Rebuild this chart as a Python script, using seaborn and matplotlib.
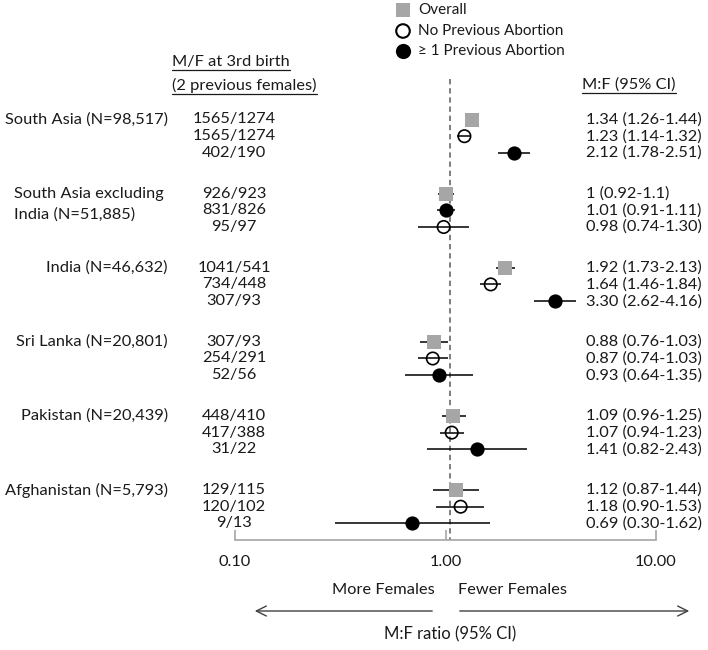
import numpy as np
import pandas as pd
import matplotlib
matplotlib.use("Agg")
import matplotlib.pyplot as plt
from matplotlib.lines import Line2D
import seaborn as sns

# ---------------- data ----------------
groups = ["South Asia (N=98,517)", "South Asia excluding\nIndia (N=51,885)",
          "India (N=46,632)", "Sri Lanka (N=20,801)",
          "Pakistan (N=20,439)", "Afghanistan (N=5,793)"]
kinds = ["Overall", "No Previous Abortion", "\u2265 1 Previous Abortion"]
# row kinds per group (index into kinds)
row_kind = [0, 1, 2,
            0, 2, 1,
            0, 1, 2,
            0, 1, 2,
            0, 1, 2,
            0, 1, 2]
counts = ["1565/1274", "1565/1274", "402/190",
          "926/923", "831/826", "95/97",
          "1041/541", "734/448", "307/93",
          "307/93", "254/291", "52/56",
          "448/410", "417/388", "31/22",
          "129/115", "120/102", "9/13"]
est = [1.34, 1.23, 2.12,
       1.00, 1.01, 0.98,
       1.92, 1.64, 3.30,
       0.88, 0.87, 0.93,
       1.09, 1.07, 1.41,
       1.12, 1.18, 0.69]
lo = [1.26, 1.14, 1.78,
      0.92, 0.91, 0.74,
      1.73, 1.46, 2.62,
      0.76, 0.74, 0.64,
      0.96, 0.94, 0.82,
      0.87, 0.90, 0.30]
hi = [1.44, 1.32, 2.51,
      1.10, 1.11, 1.30,
      2.13, 1.84, 4.16,
      1.03, 1.03, 1.35,
      1.25, 1.23, 2.43,
      1.44, 1.53, 1.62]
ci_text = ["1.34 (1.26-1.44)", "1.23 (1.14-1.32)", "2.12 (1.78-2.51)",
           "1 (0.92-1.1)", "1.01 (0.91-1.11)", "0.98 (0.74-1.30)",
           "1.92 (1.73-2.13)", "1.64 (1.46-1.84)", "3.30 (2.62-4.16)",
           "0.88 (0.76-1.03)", "0.87 (0.74-1.03)", "0.93 (0.64-1.35)",
           "1.09 (0.96-1.25)", "1.07 (0.94-1.23)", "1.41 (0.82-2.43)",
           "1.12 (0.87-1.44)", "1.18 (0.90-1.53)", "0.69 (0.30-1.62)"]
ref_value = 1.05
xticks = [0.1, 1, 10]
xtick_labels = ["0.10", "1.00", "10.00"]

# ---------------- layout ----------------
W, H = 708, 650
Y0, GSTEP, RSTEP = 119.5, 74.1, 16.7
n = len(est)
ypos = [Y0 + (i // 3) * GSTEP + (i % 3) * RSTEP for i in range(n)]

df = pd.DataFrame({"est": est, "lo": lo, "hi": hi, "y": ypos,
                   "kind": [kinds[k] for k in row_kind]})

sns.set_theme(style="white")
FONT = ["Lato", "DejaVu Sans"]
plt.rcParams["font.family"] = FONT
FS = 11.8
FS_LEG = 11.0
TXT = "#1a1a1a"
GRAY = "#a6a6a6"

fig = plt.figure(figsize=(W / 100, H / 100), dpi=100)

def fx(px):
    return px / W

AX_L, AX_R, AX_T, AX_B = 235, 656, 0, 540
ax = fig.add_axes([fx(AX_L), 1 - AX_B / H, (AX_R - AX_L) / W, (AX_B - AX_T) / H])
ax.set_xscale("log")
ax.set_xlim(0.1, 10)
ax.set_ylim(AX_B, AX_T)
ax.patch.set_alpha(0)

# overlay axes in pixel coordinates for text
ov = fig.add_axes([0, 0, 1, 1], zorder=-1)
ov.set_xlim(0, W)
ov.set_ylim(H, 0)
ov.axis("off")

# reference dashed line
ax.vlines(ref_value, 79, AX_B, color="#5a5a5a", lw=1.1, linestyles=(0, (3.5, 2.5)), zorder=1)

# CI lines
ax.hlines(df["y"], df["lo"], df["hi"], color="black", lw=1.1, zorder=2)

# markers
sub = df[df["kind"] == kinds[0]]
sns.scatterplot(data=sub, x="est", y="y", marker="s", s=95, color=GRAY,
                edgecolor=GRAY, linewidth=0, ax=ax, zorder=3, legend=False)
sub = df[df["kind"] == kinds[1]]
sns.scatterplot(data=sub, x="est", y="y", marker="o", s=80, color="black",
                ax=ax, zorder=3, legend=False)
pts = ax.collections[-1]
pts.set_facecolor("none")
pts.set_edgecolor("black")
pts.set_linewidth(1.2)
sub = df[df["kind"] == kinds[2]]
sns.scatterplot(data=sub, x="est", y="y", marker="o", s=105, color="black",
                edgecolor="black", linewidth=0, ax=ax, zorder=3, legend=False)

# axis styling
for s in ["top", "right", "left"]:
    ax.spines[s].set_visible(False)
ax.spines["bottom"].set_color(GRAY)
ax.spines["bottom"].set_linewidth(1.2)
ax.set_xticks(xticks)
ax.set_xticklabels(xtick_labels)
ax.xaxis.set_minor_locator(matplotlib.ticker.NullLocator())
ax.tick_params(axis="x", direction="in", length=7, width=1.2, color=GRAY,
               labelsize=11.8, labelcolor=TXT, pad=11, bottom=True)
ax.set_yticks([])
ax.set_xlabel("")
ax.set_ylabel("")

# ---------------- texts ----------------
for g, name in enumerate(groups):
    yg = ypos[g * 3]
    if "\n" in name:
        l1, l2 = name.split("\n")
        ov.text(14, yg, l1, ha="left", va="center", fontsize=FS, color=TXT)
        ov.text(14, yg + 21, l2, ha="left", va="center", fontsize=FS, color=TXT)
    else:
        ov.text(168, yg, name, ha="right", va="center", fontsize=FS, color=TXT)

for i in range(n):
    ov.text(234, ypos[i], counts[i], ha="center", va="center", fontsize=FS, color=TXT)
    ov.text(586, ypos[i], ci_text[i], ha="left", va="center", fontsize=FS, color=TXT)

hdr = [ov.text(172, 62, "M/F at 3rd birth", ha="left", va="center", fontsize=FS, color=TXT),
       ov.text(172, 85, "(2 previous females)", ha="left", va="center", fontsize=FS, color=TXT),
       ov.text(582, 85, "M:F (95% CI)", ha="left", va="center", fontsize=11.8, color=TXT)]

# legend
leg_y = [10, 31, 51]
ov.scatter([403], [leg_y[0]], marker="s", s=110, color=GRAY, linewidth=0)
ov.scatter([403], [leg_y[1]], marker="o", s=95, facecolor="none", edgecolor="black", linewidth=1.5)
ov.scatter([403], [leg_y[2]], marker="o", s=120, color="black", linewidth=0)
for k, yy in zip(kinds, leg_y):
    ov.text(418, yy, k, ha="left", va="center", fontsize=FS_LEG, color=TXT)

# bottom annotation
ov.text(435, 590, "More Females", ha="right", va="center", fontsize=FS, color=TXT)
ov.text(458, 590, "Fewer Females", ha="left", va="center", fontsize=FS, color=TXT)
arr = dict(arrowstyle="->", color="#404040", lw=1.0, mutation_scale=18)
ov.annotate("", xy=(252, 611), xytext=(435, 611), arrowprops=arr)
ov.annotate("", xy=(692, 611), xytext=(457, 611), arrowprops=arr)
ov.text(450, 634, "M:F ratio (95% CI)", ha="center", va="center", fontsize=12.0, color=TXT)

# underlines
fig.canvas.draw()
r = fig.canvas.get_renderer()
for t in hdr:
    bb = t.get_window_extent(r)
    yline = bb.y0 - 1.0
    fig.add_artist(Line2D([bb.x0 / W, bb.x1 / W], [yline / H, yline / H],
                          color=TXT, lw=0.9, transform=fig.transFigure))

fig.savefig("out.png", dpi=100)
